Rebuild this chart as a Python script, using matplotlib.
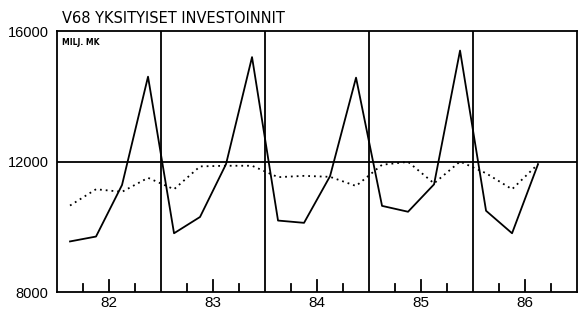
import matplotlib.pyplot as plt
import numpy as np

years = [82, 83, 84, 85, 86]
# quarterly values, 1982 Q1 .. 1986 Q3
investments = [9550, 9700, 11280, 14600,
               9800, 10300, 11920, 15200,
               10190, 10120, 11550, 14570,
               10640, 10460, 11300, 15400,
               10490, 9800, 11920]
trend = [10650, 11150, 11070, 11500,
         11150, 11850, 11870, 11870,
         11520, 11560, 11530, 11250,
         11900, 11990, 11330, 12000,
         11640, 11150, 11920]
y_ticks = [8000, 12000, 16000]

LABEL_FONT = ["Liberation Sans", "DejaVu Sans"]


def main():
    fig = plt.figure(figsize=(5.83, 3.12), dpi=100)
    ax = fig.add_axes([0.0978, 0.0641, 0.892, 0.8365])

    n = len(investments)
    x = 1900 + years[0] + (np.arange(n) + 0.5) / 4

    ax.plot(x, investments, color="black", lw=1.3)
    ax.plot(x, trend, color="black", lw=1.3, linestyle=(0, (1, 2.2)))

    x0, x1 = 1900 + years[0], 1900 + years[-1] + 1
    ax.set_xlim(x0, x1)
    ax.set_ylim(8000, 16000)

    # year dividers and reference line
    for yr in years[1:]:
        ax.axvline(1900 + yr, color="black", lw=1.3)
    ax.axhline(12000, color="black", lw=1.3)

    # quarter ticks drawn inward from the bottom
    for yr in years:
        for q, h in [(1, 250), (2, 380), (3, 250)]:
            xt = 1900 + yr + q / 4
            ax.plot([xt, xt], [8000, 8000 + h], color="black", lw=1.3)

    ax.set_xticks([1900 + yr + 0.5 for yr in years])
    ax.set_xticklabels([str(yr) for yr in years], fontsize=11, family=LABEL_FONT)
    ax.set_yticks(y_ticks)
    ax.set_yticklabels([str(v) for v in y_ticks], fontsize=10.5, family=LABEL_FONT)
    ax.tick_params(axis="y", length=0, pad=6)
    ax.tick_params(axis="x", length=0, pad=3)

    for s in ax.spines.values():
        s.set_linewidth(1.3)

    fig.text(0.106, 0.925, "V68 YKSITYISET INVESTOINNIT", fontsize=10.5,
             ha="left", va="baseline")
    ax.text(0.01, 0.975, "MILJ. MK", transform=ax.transAxes, fontsize=5.5,
            fontweight="bold", ha="left", va="top")

    fig.savefig("out.png", dpi=100)
    plt.close(fig)


if __name__ == "__main__":
    main()
